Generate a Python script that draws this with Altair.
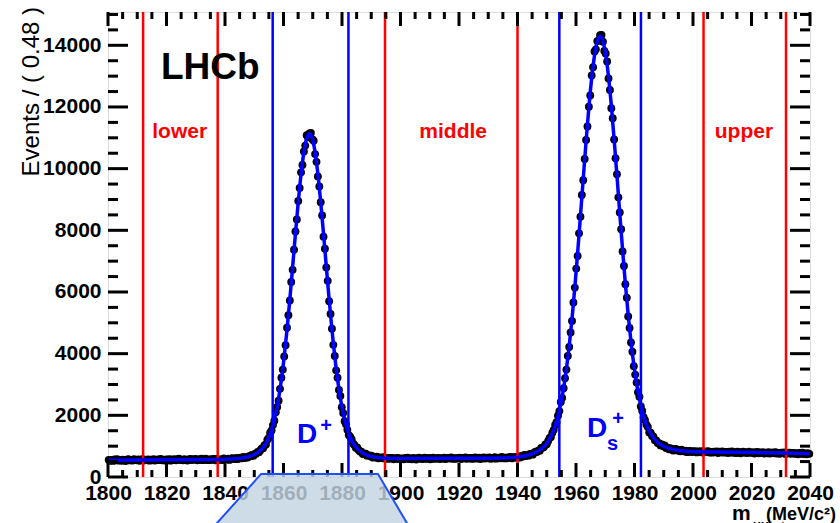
import altair as alt
import numpy as np
import pandas as pd

# ---------------- data ----------------
BIN_LO = 1800.0
BIN_W = 0.48

events = [
    557, 527, 551, 521, 566, 538, 576, 532, 548, 525,
    565, 545, 520, 559, 574, 538, 554, 532, 578, 549,
    543, 566, 525, 558, 574, 537, 564, 550, 571, 530,
    561, 544, 580, 535, 556, 571, 549, 584, 541, 561,
    536, 567, 557, 577, 530, 571, 552, 581, 542, 568,
    591, 548, 564, 540, 578, 557, 532, 571, 587,
    548, 575, 562, 583, 541, 573, 555, 591, 547, 568,
    595, 552, 572, 547, 578, 568, 588, 541, 583, 564,
    558, 573, 552, 598, 576, 571, 595, 555, 591, 608,
    596, 581, 621, 580, 605, 625, 608, 649, 616, 644,
    630, 675, 676, 714, 685, 748, 754, 810, 806, 870,
    925, 934, 1031, 1058, 1210, 1267, 1439, 1506, 1683, 1824,
    2099, 2274, 2471, 2859, 3218, 3484, 3911, 4275, 4843, 5249,
    5725, 6327, 6718, 7373, 7961, 8353, 8951, 9375, 9881, 10118,
    10556, 10747, 11082, 11020, 11143, 11161, 10956, 10905, 10471, 10221,
    9748, 9425, 8912, 8481, 7794, 7403, 6797, 6361, 5703, 5288,
    4811, 4285, 3923, 3459, 3217, 2825, 2630, 2262, 2074, 1812,
    1714, 1530, 1360, 1304, 1228, 1090, 1041, 945, 961, 874,
    827, 821, 744, 758, 754, 692, 708, 678, 691, 629,
    656, 629, 659, 609, 625, 635, 610, 642, 596, 613,
    586, 615, 603, 622, 574, 609, 590, 618, 579, 604, 597,
    572, 617, 589, 627, 584, 600, 577, 615, 594, 569,
    609, 624, 588, 603, 582, 628, 599, 592, 616, 575,
    608, 623, 587, 614, 600, 622, 580, 611, 594, 630,
    585, 606, 620, 599, 634, 591, 611, 586, 617, 606,
    627, 580, 621, 602, 631, 592, 617, 621, 592, 615,
    591, 637, 608, 601, 625, 584, 617, 632, 596, 623,
    610, 631, 590, 621, 603, 639, 595, 615, 630, 608,
    647, 605, 626, 603, 635, 626, 648, 603, 646, 630,
    653, 628, 657, 634, 686, 666, 713, 680, 706, 692,
    744, 735, 724, 786, 823, 807, 850, 855, 940, 947,
    976, 1059, 1059, 1171, 1267, 1301, 1435, 1529, 1686, 1775,
    1990, 2138, 2433, 2567, 2879, 3206, 3484, 3925, 4219, 4689,
    5063, 5662, 6142, 6759, 7167, 7902, 8439, 9149, 9624, 10315,
    10931, 11367, 12011, 12372, 13023, 13291, 13798, 13868, 14136, 14159,
    14330, 14337, 14119, 13818, 13734, 13473, 12924, 12552, 11962, 11638,
    10945, 10336, 9819, 9069, 8578, 8033, 7317, 6845, 6254, 5815,
    5207, 4832, 4363, 4065, 3594, 3322, 3066, 2750, 2602, 2285,
    2144, 1938, 1845, 1699, 1622, 1447, 1434, 1329, 1311, 1189,
    1186, 1104, 1097, 1024, 1055, 994, 1021, 944, 948, 901,
    935, 900, 861, 899, 907, 856, 866, 833, 882, 843,
    831, 850, 806, 837, 849, 810, 836, 820, 840, 797,
    826, 806, 841, 795, 815, 828, 805, 839, 795, 814,
    789, 819, 808, 827, 780, 820, 801, 828, 789, 813,
    810, 779, 824, 795, 833, 788, 804, 779, 817, 795,
    770, 808, 822, 786, 800, 777, 822, 792, 784, 806,
    764, 796, 810, 772, 799, 784, 804, 761, 791, 772,
    807, 761, 782, 795, 772, 806, 762, 781, 755, 785,
    774, 793, 745, 785, 765, 792, 752, 776, 779, 748,
    770, 739, 783, 754, 791, 746, 761, 736, 773, 751,
]

fit_bins = ([0, 40, 79] + list(range(85, 200, 2)) + [203, 210, 250, 280, 286]
            + list(range(290, 411, 2)) + [414, 420, 440, 460, 480, 499])
fit_events = [
    545, 557, 570,
    581, 585, 589, 596, 604, 615, 631, 651, 677, 713, 760, 823, 907, 1023, 1180,
    1394, 1680, 2059, 2546, 3158, 3903, 4775, 5757, 6813, 7887, 8912, 9818, 10528,
    10982, 11139, 10984, 10531, 9822, 8916, 7892, 6818, 5763, 4781, 3910, 3167,
    2555, 2069, 1690, 1405, 1192, 1036, 920, 838, 776, 729, 695, 669, 649, 634,
    624, 617, 611, 607,
    602, 598, 608, 619, 629,
    641, 652, 666, 683, 704, 726, 757, 797, 847, 910, 989, 1097, 1238, 1420, 1661,
    1974, 2375, 2877, 3500, 4254, 5137, 6146, 7265, 8460, 9684, 10877, 11988,
    12933, 13663, 14127, 14300, 14142, 13693, 12978, 12048, 10952, 9770, 8557,
    7373, 6265, 5267, 4391, 3644, 3028, 2532, 2137, 1828, 1590, 1412, 1274, 1170,
    1090, 1029, 982, 945, 916, 897, 878, 862, 850, 840,
    828, 819, 805, 791, 775, 756,
]

red_cuts = [1812.0, 1837.5, 1894.7, 1940.0, 2003.6, 2031.8]
blue_cuts = [1856.3, 1882.2, 1954.3, 1982.2]

x_labels = list(range(1800, 2041, 20))
y_labels = list(range(0, 14001, 2000))
x_minor = [m for m in range(1800, 2041, 5) if m % 20]
y_minor = [v for v in range(0, 15001, 500) if v % 2000]

# callout trapezoid (in data units, drawn below the axis)
callout_events = [94, -1700]
callout_left = [1852.3, 1835.3]
callout_right = [1892.3, 1903.5]

assert len(events) == 500
assert len(fit_bins) == len(fit_events)

# ---------------- tables ----------------
pts = pd.DataFrame({"mass": BIN_LO + BIN_W * (np.arange(len(events)) + 0.5),
                    "events": events})
fit = pd.DataFrame({"mass": BIN_LO + BIN_W * (np.array(fit_bins) + 0.5),
                    "events": fit_events})
trap = pd.DataFrame({"events": callout_events, "mass": callout_left,
                     "mass2": callout_right})

W, H = 702, 465
FONT = "Liberation Sans"
XS = alt.Scale(domain=[1800, 2040], nice=False, zero=False)
YS = alt.Scale(domain=[0, 15080], nice=False, zero=False)
XA = alt.Axis(values=x_labels, format="d", title=None, grid=False, domain=False,
              ticks=False, tickSize=0, labelFont=FONT, labelFontSize=21,
              labelFontWeight="bold", labelColor="black", labelPadding=5,
              labelFlush=False, labelOverlap=False)
YA = alt.Axis(values=y_labels, format="d", title=None, grid=False, domain=False,
              ticks=False, tickSize=0, labelFont=FONT, labelFontSize=21,
              labelFontWeight="bold", labelColor="black", labelPadding=7,
              labelFlush=False, labelOverlap=False)


def X(f="mass"):
    return alt.X(f"{f}:Q", scale=XS, axis=XA)


def Y(f="events"):
    return alt.Y(f"{f}:Q", scale=YS, axis=YA)


one = pd.DataFrame({"k": [0]})


def ann(text, m, e, size, color, weight="bold", align="left"):
    return alt.Chart(pd.DataFrame({"mass": [m], "events": [e]})).mark_text(
        text=text, font=FONT, fontSize=size, fontWeight=weight, color=color,
        align=align, baseline="alphabetic", clip=False
    ).encode(x=X(), y=Y())


points = alt.Chart(pts).mark_circle(size=62, color="black", opacity=1).encode(x=X(), y=Y())
fit_line = alt.Chart(fit).mark_line(color="#0000ff", strokeWidth=3.5,
                                    interpolate="monotone").encode(x=X(), y=Y())
red_rules = alt.Chart(pd.DataFrame({"mass": red_cuts})).mark_rule(
    color="#ff0000", strokeWidth=2.5).encode(x=X())
blue_rules = alt.Chart(pd.DataFrame({"mass": blue_cuts})).mark_rule(
    color="#0000ff", strokeWidth=2.5).encode(x=X())

xmaj = pd.DataFrame({"mass": x_labels})
xmin = pd.DataFrame({"mass": x_minor})
ymaj = pd.DataFrame({"events": y_labels})
ymin = pd.DataFrame({"events": y_minor})
tk = dict(color="black", strokeWidth=3)
ticks = [
    alt.Chart(xmaj).mark_rule(**tk).encode(x=X(), y=alt.value(H), y2=alt.value(H - 14)),
    alt.Chart(xmaj).mark_rule(**tk).encode(x=X(), y=alt.value(0), y2=alt.value(14)),
    alt.Chart(xmin).mark_rule(**tk).encode(x=X(), y=alt.value(H), y2=alt.value(H - 7)),
    alt.Chart(xmin).mark_rule(**tk).encode(x=X(), y=alt.value(0), y2=alt.value(7)),
    alt.Chart(ymaj).mark_rule(**tk).encode(y=Y(), x=alt.value(0), x2=alt.value(20)),
    alt.Chart(ymaj).mark_rule(**tk).encode(y=Y(), x=alt.value(W), x2=alt.value(W - 20)),
    alt.Chart(ymin).mark_rule(**tk).encode(y=Y(), x=alt.value(0), x2=alt.value(10)),
    alt.Chart(ymin).mark_rule(**tk).encode(y=Y(), x=alt.value(W), x2=alt.value(W - 10)),
]

texts = [
    ann("LHCb", 1818.1, 12915, 37, "black"),
    ann("lower", 1824.5, 10980, 21, "#ff0000", align="center"),
    ann("middle", 1918.0, 10980, 21, "#ff0000", align="center"),
    ann("upper", 2017.4, 10980, 21, "#ff0000", align="center"),
    ann("D", 1864.6, 1098, 28, "#0000ff"),
    ann("+", 1872.6, 1454, 20, "#0000ff"),
    ann("D", 1963.8, 1302, 28, "#0000ff"),
    ann("s", 1970.6, 872, 20, "#0000ff"),
    ann("+", 1972.4, 1698, 20, "#0000ff"),
]

ytitle = alt.Chart(one).mark_text(
    text="Events / ( 0.48 )", font=FONT, fontSize=24, fontWeight="normal",
    color="black", angle=270, align="right", baseline="alphabetic", clip=False
).encode(x=alt.value(-69), y=alt.value(-5))

xt_m = alt.Chart(one).mark_text(text="m", font=FONT, fontSize=21, fontWeight="bold",
                                color="black", align="left", baseline="alphabetic"
                                ).encode(x=alt.value(624), y=alt.value(508))
xt_sub = alt.Chart(one).mark_text(text="KK⁺π⁺", font=FONT, fontSize=11, fontWeight="bold",
                                  color="black", align="left", baseline="alphabetic"
                                  ).encode(x=alt.value(645), y=alt.value(518))
xt_unit = alt.Chart(one).mark_text(text="(MeV/c²)", font=FONT, fontSize=18, fontWeight="bold",
                                   color="black", align="left", baseline="alphabetic"
                                   ).encode(x=alt.value(658), y=alt.value(508))

callout = alt.Chart(trap).mark_area(
    orient="horizontal", color="#c3d4e2", fillOpacity=0.82, stroke="#1f4fff",
    strokeWidth=2, clip=False
).encode(y=Y(), x=X(), x2=alt.X2("mass2:Q"))

chart = alt.layer(
    points, red_rules, blue_rules, fit_line, *ticks, *texts,
    ytitle, xt_m, xt_sub, xt_unit, callout
).properties(
    width=W, height=H,
    autosize=alt.AutoSizeParams(type="none"),
    padding={"left": 108, "top": 12, "right": 30, "bottom": 46},
).configure_view(stroke="black", strokeWidth=3).configure(background="white", font=FONT)

chart.save("out.html", embed_options={"renderer": "svg", "actions": False})
